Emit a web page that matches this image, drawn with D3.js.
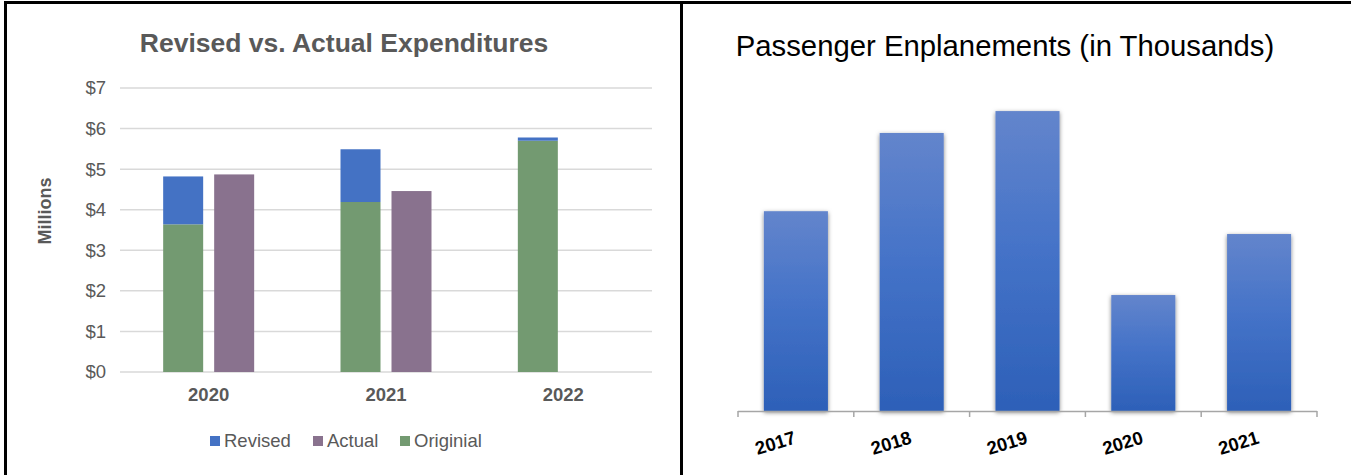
<!DOCTYPE html>
<html>
<head>
<meta charset="utf-8">
<script src="https://cdn.jsdelivr.net/npm/d3@7"></script>
<style>
  html, body { margin: 0; padding: 0; background: #fff; }
  svg { display: block; }
  text { font-family: "Liberation Sans", Arial, sans-serif; }
</style>
</head>
<body>
<svg id="chart" width="1351" height="475"></svg>
<script>
// ---------- Left chart data ----------
const expYears = ["2020", "2021", "2022"];
const originalVals = [3.64, 4.19, 5.70];
const revisedVals = [4.82, 5.49, 5.78];
const actualVals = [4.87, 4.46, null];
const expTicks = [0, 1, 2, 3, 4, 5, 6, 7];
const expLegend = ["Revised", "Actual", "Originial"];

// ---------- Right chart data ----------
const paxYears = ["2017", "2018", "2019", "2020", "2021"];
const paxVals = [429, 597, 644, 249, 380];

const svg = d3.select("#chart");

// frame lines
svg.append("rect").attr("x", 4).attr("y", 1).attr("width", 1347).attr("height", 3).attr("fill", "#000");
svg.append("rect").attr("x", 4).attr("y", 1).attr("width", 3).attr("height", 474).attr("fill", "#000");
svg.append("rect").attr("x", 680).attr("y", 1).attr("width", 3).attr("height", 474).attr("fill", "#000");

// ================= LEFT CHART =================
const C = { revised: "#4472C4", actual: "#89728E", original: "#739A71" };
const textGray = "#595959";

const L = svg.append("g");
L.append("text").attr("x", 344).attr("y", 52).attr("text-anchor", "middle")
  .attr("font-size", 26.5).attr("font-weight", "bold").attr("fill", textGray)
  .text("Revised vs. Actual Expenditures");

const yL = d3.scaleLinear().domain([0, 7]).range([372, 88]);
const x0 = d3.scaleBand().domain(expYears).range([120, 652]).padding(0);
const x1 = d3.scaleBand().domain(["stack", "actual"]).range([0, 91]).paddingInner(11 / 51).paddingOuter(0);

// gridlines
L.append("g").selectAll("line").data(expTicks).join("line")
  .attr("x1", 120).attr("x2", 652)
  .attr("y1", d => yL(d)).attr("y2", d => yL(d))
  .attr("stroke", "#D9D9D9").attr("stroke-width", 1.5);

// y tick labels
L.append("g").selectAll("text").data(expTicks).join("text")
  .attr("x", 106).attr("y", d => yL(d)).attr("dy", "0.35em")
  .attr("text-anchor", "end").attr("font-size", 18.5).attr("fill", textGray)
  .text(d => "$" + d);

// y title
L.append("text").attr("transform", "translate(51,211) rotate(-90)")
  .attr("text-anchor", "middle").attr("font-size", 18).attr("font-weight", "bold").attr("fill", textGray)
  .text("Millions");

const groups = L.append("g").selectAll("g").data(expYears).join("g")
  .attr("transform", d => `translate(${x0(d) + x0.bandwidth() / 2 - 45.5},0)`);

// original bars
groups.append("rect")
  .attr("x", x1("stack")).attr("width", x1.bandwidth())
  .attr("y", (d, i) => yL(originalVals[i]))
  .attr("height", (d, i) => yL(0) - yL(originalVals[i]))
  .attr("fill", C.original);
// revised (stacked above original)
groups.append("rect")
  .attr("x", x1("stack")).attr("width", x1.bandwidth())
  .attr("y", (d, i) => yL(revisedVals[i]))
  .attr("height", (d, i) => yL(originalVals[i]) - yL(revisedVals[i]))
  .attr("fill", C.revised);
// actual
groups.filter((d, i) => actualVals[i] != null).append("rect")
  .attr("x", x1("actual")).attr("width", x1.bandwidth())
  .attr("y", d => yL(actualVals[expYears.indexOf(d)]))
  .attr("height", d => yL(0) - yL(actualVals[expYears.indexOf(d)]))
  .attr("fill", C.actual);

// x labels
L.append("g").selectAll("text").data(expYears).join("text")
  .attr("x", d => x0(d) + x0.bandwidth() / 2).attr("y", 401)
  .attr("text-anchor", "middle").attr("font-size", 18.5).attr("font-weight", "bold").attr("fill", textGray)
  .text(d => d);

// legend
const legendColors = [C.revised, C.actual, C.original];
const legendX = [210, 313, 400];
const lg = L.append("g").selectAll("g").data(expLegend).join("g")
  .attr("transform", (d, i) => `translate(${legendX[i]},436)`);
lg.append("rect").attr("width", 10).attr("height", 10).attr("fill", (d, i) => legendColors[i]);
lg.append("text").attr("x", 14).attr("y", 5).attr("dy", "0.35em")
  .attr("font-size", 18.5).attr("fill", textGray).text(d => d);

// ================= RIGHT CHART =================
const defs = svg.append("defs");
const grad = defs.append("linearGradient").attr("id", "barGrad")
  .attr("x1", 0).attr("y1", 0).attr("x2", 0).attr("y2", 1);
grad.append("stop").attr("offset", "0%").attr("stop-color", "#6385CC");
grad.append("stop").attr("offset", "45%").attr("stop-color", "#4573C8");
grad.append("stop").attr("offset", "100%").attr("stop-color", "#2D60B8");
const filt = defs.append("filter").attr("id", "shadow")
  .attr("x", "-30%").attr("y", "-10%").attr("width", "160%").attr("height", "130%");
filt.append("feDropShadow").attr("dx", 0).attr("dy", 1.5).attr("stdDeviation", 2)
  .attr("flood-color", "#000").attr("flood-opacity", 0.5);

const R = svg.append("g");
R.append("text").attr("x", 1005).attr("y", 56).attr("text-anchor", "middle")
  .attr("font-size", 29.3).attr("fill", "#000")
  .text("Passenger Enplanements (in Thousands)");

const xR = d3.scaleBand().domain(paxYears).range([738, 1317]).paddingInner(0.447).paddingOuter(0.2235);
const yR = d3.scaleLinear().domain([0, 700]).range([411, 85]);

R.append("g").selectAll("rect").data(paxYears).join("rect")
  .attr("x", d => xR(d)).attr("width", xR.bandwidth())
  .attr("y", (d, i) => yR(paxVals[i]))
  .attr("height", (d, i) => yR(0) - yR(paxVals[i]))
  .attr("fill", "url(#barGrad)").attr("filter", "url(#shadow)");

// axis line and ticks
const step = xR.step();
const tickXs = d3.range(paxYears.length + 1).map(i => 738 + i * step);
R.append("line").attr("x1", 738).attr("x2", 1317).attr("y1", 411.5).attr("y2", 411.5)
  .attr("stroke", "#A6A6A6").attr("stroke-width", 1.5);
R.append("g").selectAll("line").data(tickXs).join("line")
  .attr("x1", d => d).attr("x2", d => d).attr("y1", 411).attr("y2", 417)
  .attr("stroke", "#A6A6A6").attr("stroke-width", 1.5);

R.append("g").selectAll("text").data(paxYears).join("text")
  .attr("transform", d => `translate(${xR(d) + xR.bandwidth() / 2 + 1},443) rotate(-17)`)
  .attr("text-anchor", "end").attr("font-size", 18.5).attr("font-weight", "bold").attr("fill", "#000")
  .text(d => d);
</script>
</body>
</html>
